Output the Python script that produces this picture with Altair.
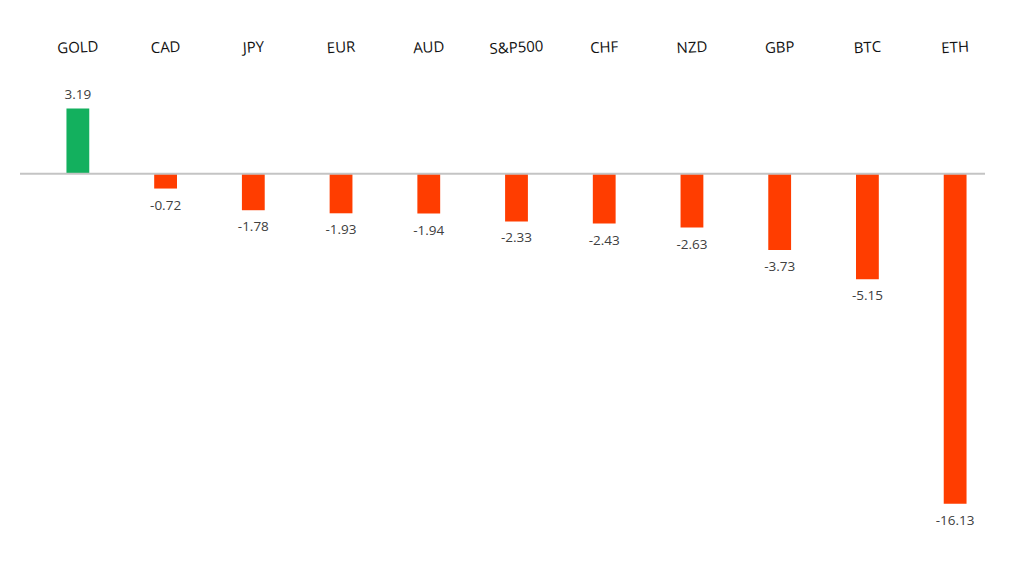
import altair as alt
import pandas as pd

assets = ["GOLD", "CAD", "JPY", "EUR", "AUD", "S&P500", "CHF", "NZD", "GBP", "BTC", "ETH"]
changes = [3.19, -0.72, -1.78, -1.93, -1.94, -2.33, -2.43, -2.63, -3.73, -5.15, -16.13]

df = pd.DataFrame({"asset": assets, "change": changes})
df["label"] = df["change"].map(lambda v: f"{v:.2f}")

GREEN = "#13B05E"
RED = "#FF3D00"
FONT = "Open Sans"

x = alt.X("asset:N", sort=assets,
          scale=alt.Scale(paddingInner=0.74, paddingOuter=0.37),
          axis=alt.Axis(orient="top", title=None, ticks=False, domain=False,
                        labelAngle=-3, labelAlign="center", labelBaseline="middle",
                        labelFontSize=15, labelColor="#111111",
                        labelFont=FONT, labelPadding=45, grid=False))
y = alt.Y("change:Q", scale=alt.Scale(domain=[-18, 4], nice=False), axis=None)

base = alt.Chart(df)

bars = base.mark_bar().encode(
    x=x, y=y, y2=alt.datum(0),
    color=alt.condition(alt.datum.change > 0, alt.value(GREEN), alt.value(RED)),
)

zero = alt.Chart(pd.DataFrame({"z": [0]})).mark_rule(color="#C4C4C4", strokeWidth=2).encode(
    y=alt.Y("z:Q", scale=alt.Scale(domain=[-18, 4], nice=False), axis=None),
    x=alt.value(-14), x2=alt.value(951),
)

pos_text = base.transform_filter(alt.datum.change > 0).mark_text(
    baseline="bottom", dy=-7, fontSize=13.5, font=FONT, color="#404040"
).encode(x=x, y=y, text="label:N")

neg_text = base.transform_filter(alt.datum.change <= 0).mark_text(
    baseline="top", dy=10, fontSize=13.5, font=FONT, color="#404040"
).encode(x=x, y=y, text="label:N")

chart = alt.layer(bars, zero, pos_text, neg_text).properties(
    width=965, height=450,
    background="white",
    autosize=alt.AutoSizeParams(type="none"),
    padding={"left": 26, "top": 84, "right": 0, "bottom": 0},
).configure_view(stroke=None).configure_axis(grid=False)

chart.save("out.html", embed_options={"renderer": "svg", "actions": False})
